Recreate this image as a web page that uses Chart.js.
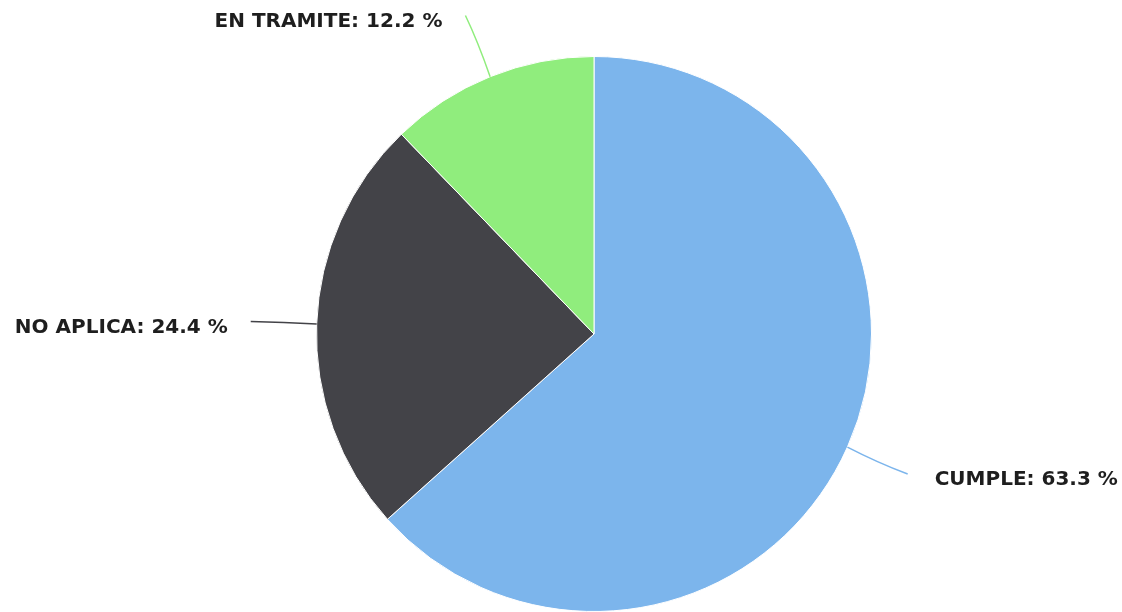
<!DOCTYPE html>
<html>
<head>
<meta charset="utf-8">
<script src="https://cdn.jsdelivr.net/npm/chart.js@4"></script>
<style>
    html, body { margin: 0; padding: 0; background: #fff; }
    #wrap { width: 1122px; height: 612px; position: relative; }
</style>
</head>
<body>
<div id="wrap"><canvas id="pieChart"></canvas></div>
<script>
const labels = ['CUMPLE', 'NO APLICA', 'EN TRAMITE'];
const values = [63.3, 24.4, 12.2];
const colors = ['#7cb5ec', '#434348', '#90ed7d'];

// outside labels with connector lines, highcharts style
const outsideLabels = {
    id: 'outsideLabels',
    afterDatasetsDraw(chart) {
        const ctx = chart.ctx;
        const meta = chart.getDatasetMeta(0);
        ctx.save();
        ctx.font = 'bold 20px "DejaVu Sans", sans-serif';
        ctx.textBaseline = 'middle';
        ctx.fillStyle = '#1e1e1e';
        meta.data.forEach((arc, i) => {
            const p = arc.getProps(['x', 'y', 'startAngle', 'endAngle', 'outerRadius'], true);
            const mid = (p.startAngle + p.endAngle) / 2;
            const cos = Math.cos(mid), sin = Math.sin(mid);
            const x0 = p.x + p.outerRadius * cos, y0 = p.y + p.outerRadius * sin;
            const len = 66;
            const x1 = p.x + (p.outerRadius + len) * cos, y1 = p.y + (p.outerRadius + len) * sin;
            const cx = p.x + (p.outerRadius + len * 0.5) * cos, cy = p.y + (p.outerRadius + len * 0.5) * sin;

            ctx.strokeStyle = colors[i];
            ctx.lineWidth = 1.5;
            ctx.beginPath();
            ctx.moveTo(x0, y0);
            ctx.quadraticCurveTo(cx, cy + (y1 - y0) * 0.08, x1, y1);
            ctx.stroke();

            const text = labels[i] + ': ' + values[i].toFixed(1) + ' %';
            if (cos >= 0) {
                ctx.textAlign = 'left';
                ctx.fillText(text, x1 + 27, y1 + 6);
            } else {
                ctx.textAlign = 'right';
                ctx.fillText(text, x1 - 23, y1 + 6);
            }
        });
        ctx.restore();
    }
};

new Chart(document.getElementById('pieChart').getContext('2d'), {
    type: 'pie',
    data: {
        labels: labels,
        datasets: [{
            data: values,
            backgroundColor: colors,
            borderColor: '#fff',
            borderWidth: 1
        }]
    },
    options: {
        responsive: true,
        maintainAspectRatio: false,
        animation: false,
        layout: {
            padding: { top: 56, bottom: 0, left: 316, right: 250 }
        },
        plugins: {
            legend: { display: false },
            tooltip: { enabled: false }
        }
    },
    plugins: [outsideLabels]
});
</script>
</body>
</html>
